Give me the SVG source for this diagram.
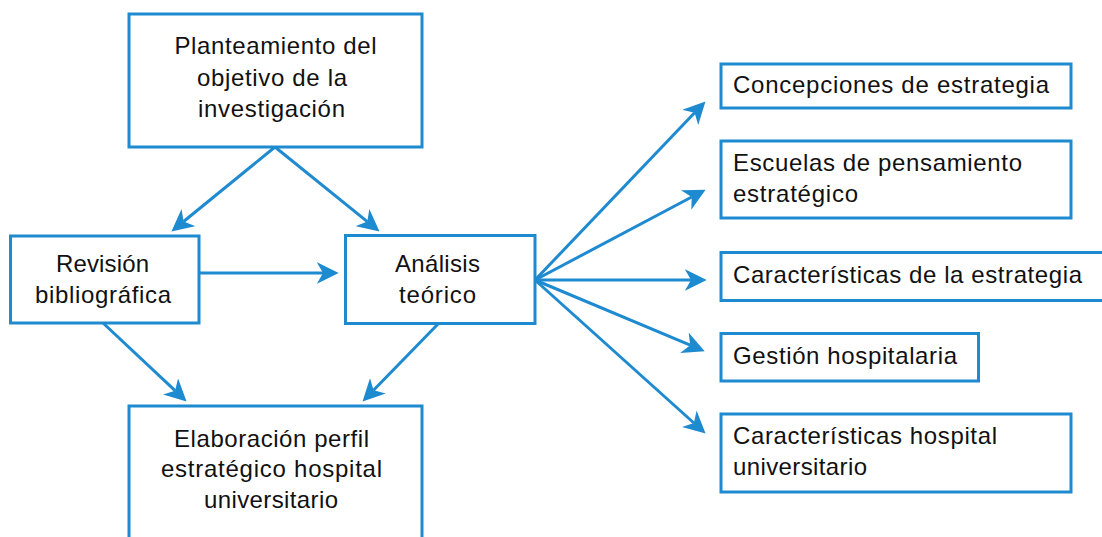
<svg xmlns="http://www.w3.org/2000/svg" width="1102" height="537" viewBox="0 0 1102 537">
<style>
.box{fill:#fff;stroke:#1E8AD0;stroke-width:3}
.c{stroke:#1E8AD0;stroke-width:3;fill:none;marker-end:url(#ah)}
text{font-family:"Liberation Sans",Arial,sans-serif;font-size:24px;fill:#111}
.m{text-anchor:middle}
</style>
<defs>
<marker id="ah" markerUnits="userSpaceOnUse" markerWidth="22" markerHeight="22" viewBox="0 0 21 21" refX="6" refY="10.5" orient="auto">
<path d="M0,0 L21,10.5 L0,21 L6,10.5 Z" fill="#1E8AD0"/>
</marker>
</defs>
<rect width="1102" height="537" fill="#fff"/>
<g id="connectors">
<line class="c" x1="275" y1="147" x2="183.6" y2="221.5"/>
<line class="c" x1="275" y1="147" x2="367.3" y2="221.6"/>
<line class="c" x1="199" y1="273" x2="323" y2="273"/>
<line class="c" x1="103" y1="323" x2="175.1" y2="390.7"/>
<line class="c" x1="439" y1="323" x2="373.5" y2="390.3"/>
<line class="c" x1="535" y1="280" x2="694.6" y2="112.8"/>
<line class="c" x1="535" y1="280" x2="691.7" y2="197"/>
<line class="c" x1="535" y1="280" x2="691" y2="280"/>
<line class="c" x1="535" y1="280" x2="690.2" y2="345.2"/>
<line class="c" x1="535" y1="280" x2="693.9" y2="423"/>
</g>
<g id="planteamiento">
<rect class="box" x="129" y="14" width="293" height="133"/>
<text class="m" x="275.5" y="54" textLength="202" lengthAdjust="spacing">Planteamiento del</text>
<text class="m" x="272" y="86" textLength="150" lengthAdjust="spacing">objetivo de la</text>
<text class="m" x="271.5" y="117" textLength="147" lengthAdjust="spacing">investigación</text>
</g>
<g id="revision">
<rect class="box" x="10.5" y="236" width="188.5" height="87"/>
<text class="m" x="102.5" y="272" textLength="93" lengthAdjust="spacing">Revisión</text>
<text class="m" x="103" y="303" textLength="136" lengthAdjust="spacing">bibliográfica</text>
</g>
<g id="analisis">
<rect class="box" x="345.5" y="235.5" width="189.5" height="88"/>
<text class="m" x="437.5" y="272" textLength="85" lengthAdjust="spacing">Análisis</text>
<text class="m" x="437.5" y="303" textLength="77" lengthAdjust="spacing">teórico</text>
</g>
<g id="elaboracion">
<rect class="box" x="129" y="406" width="293" height="160"/>
<text class="m" x="271.5" y="447" textLength="195" lengthAdjust="spacing">Elaboración perfil</text>
<text class="m" x="271.5" y="477" textLength="221" lengthAdjust="spacing">estratégico hospital</text>
<text class="m" x="271" y="508" textLength="134" lengthAdjust="spacing">universitario</text>
</g>
<g id="concepciones">
<rect class="box" x="721" y="64" width="350" height="44"/>
<text x="733" y="93" textLength="316" lengthAdjust="spacing">Concepciones de estrategia</text>
</g>
<g id="escuelas">
<rect class="box" x="721" y="141" width="350" height="77"/>
<text x="733" y="171" textLength="289" lengthAdjust="spacing">Escuelas de pensamiento</text>
<text x="733" y="202" textLength="125" lengthAdjust="spacing">estratégico</text>
</g>
<g id="caracteristicas-estrategia">
<rect class="box" x="721" y="252.5" width="400" height="48"/>
<text x="733" y="283" textLength="349" lengthAdjust="spacing">Características de la estrategia</text>
</g>
<g id="gestion">
<rect class="box" x="721" y="333.5" width="257.5" height="47.5"/>
<text x="733" y="364" textLength="224" lengthAdjust="spacing">Gestión hospitalaria</text>
</g>
<g id="caracteristicas-hospital">
<rect class="box" x="721" y="414" width="350" height="78"/>
<text x="733" y="444" textLength="264" lengthAdjust="spacing">Características hospital</text>
<text x="733" y="475" textLength="134" lengthAdjust="spacing">universitario</text>
</g>
</svg>
